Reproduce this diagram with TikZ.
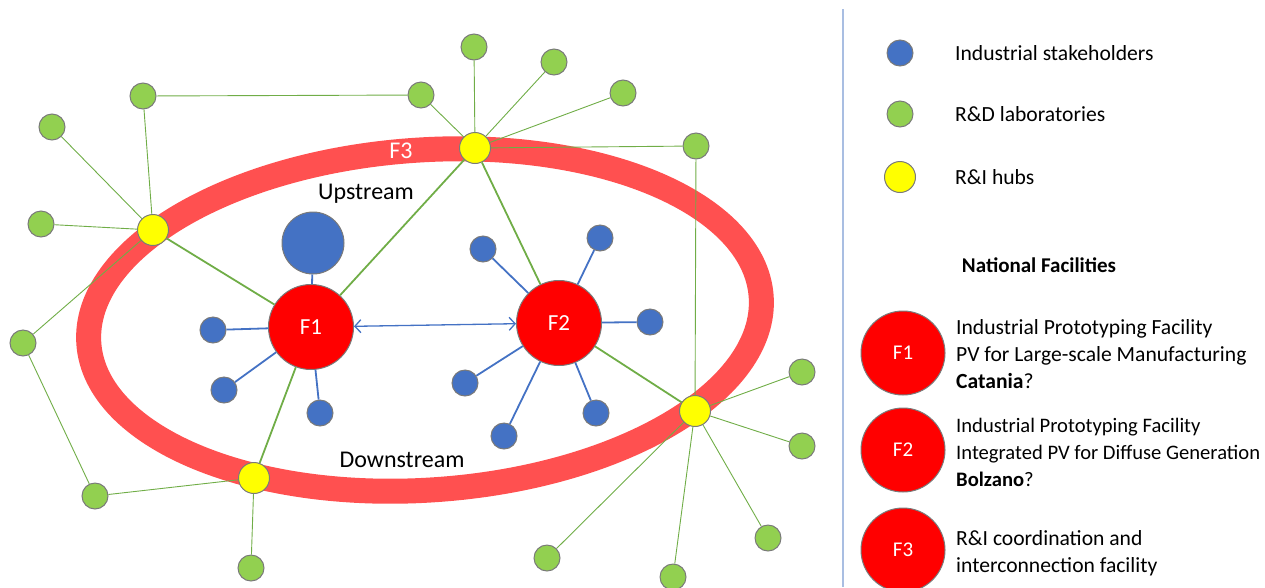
\documentclass[tikz,border=0pt]{standalone}
\usepackage{fontspec}
\setmainfont{Carlito}
\usetikzlibrary{arrows.meta}
\definecolor{indblue}{HTML}{4472C4}
\definecolor{labgreen}{HTML}{92D050}
\definecolor{linkgreen}{HTML}{70AD47}
\definecolor{hubyellow}{HTML}{FFFF00}
\definecolor{facred}{HTML}{FF0000}
\definecolor{bandred}{HTML}{FF5050}
\definecolor{rimgray}{HTML}{7A7A7A}
\definecolor{sepblue}{HTML}{A9BEE2}
\begin{document}
\begin{tikzpicture}[x=1pt,y=-1pt,
  dot/.style={circle,draw=rimgray,line width=1pt,inner sep=0pt},
  labnode/.style={dot,fill=labgreen,minimum size=26pt},
  indnode/.style={dot,fill=indblue,minimum size=26pt},
  hubnode/.style={dot,fill=hubyellow,minimum size=31pt},
  facnode/.style={dot,fill=facred,minimum size=85pt,text=white,font=\fontsize{23}{27}\selectfont},
  legfac/.style={dot,fill=facred,minimum size=84pt,text=white,font=\fontsize{21}{25}\selectfont},
  thinlink/.style={draw=linkgreen,line width=0.9pt},
  thicklink/.style={draw=linkgreen,line width=1.8pt},
  indlink/.style={draw=indblue,line width=1.8pt},
  lbl/.style={font=\fontsize{24}{28}\selectfont},
  legtext/.style={anchor=west,inner sep=0pt,align=left,font=\fontsize{21.6}{27}\selectfont}
]
\useasboundingbox (0,0) rectangle (1265,587);

% F3 coordination ring
\draw[bandred,line width=25pt,rotate around={4:(425,320)}]
  (425,320) ellipse [x radius=337pt, y radius=170pt];
\node[lbl,text=white,inner sep=0pt] (f3tag) at (401,151) {F3};

% labels inside the ring
\node[lbl] (up) at (366,194) {Upstream};
\node[lbl] (down) at (402,460) {Downstream};

% national facilities
\node[facnode] (f1) at (311,327) {F1};
\node[facnode] (f2) at (559,323) {F2};

% R&I hubs
\node[hubnode] (h1) at (153,230) {};
\node[hubnode] (h2) at (475,148) {};
\node[hubnode] (h3) at (254,478) {};
\node[hubnode] (h4) at (695,411) {};

% R&D laboratories
\node[labnode] (g1) at (143,96) {};
\node[labnode] (g2) at (52,127) {};
\node[labnode] (g3) at (41,224) {};
\node[labnode] (g4) at (23,343) {};
\node[labnode] (g5) at (95,496) {};
\node[labnode] (g6) at (251,568) {};
\node[labnode] (g7) at (421,95) {};
\node[labnode] (g8) at (474,47) {};
\node[labnode] (g9) at (554,62) {};
\node[labnode] (g10) at (623,93) {};
\node[labnode] (g11) at (696,146) {};
\node[labnode] (g12) at (802,372) {};
\node[labnode] (g13) at (802,446) {};
\node[labnode] (g14) at (768,538) {};
\node[labnode] (g15) at (547,558) {};
\node[labnode] (g16) at (673,577) {};

% industrial stakeholders
\node[indnode,minimum size=62pt] (b0) at (313,243) {};
\node[indnode] (b1) at (213,330) {};
\node[indnode] (b2) at (224,390) {};
\node[indnode] (b3) at (320,413) {};
\node[indnode] (b4) at (483,249) {};
\node[indnode] (b5) at (600,238) {};
\node[indnode] (b6) at (650,322) {};
\node[indnode] (b7) at (465,383) {};
\node[indnode] (b8) at (596,413) {};
\node[indnode] (b9) at (504,436) {};

% lab links
\draw[thinlink] (g1) -- (g7);
\draw[thinlink] (g1) -- (h1);
\draw[thinlink] (g2) -- (h1);
\draw[thinlink] (g3) -- (h1);
\draw[thinlink] (g4) -- (h1);
\draw[thinlink] (g4) -- (g5);
\draw[thinlink] (g5) -- (h3);
\draw[thinlink] (h3) -- (g6);
\draw[thinlink] (g7) -- (h2);
\draw[thinlink] (g8) -- (h2);
\draw[thinlink] (g9) -- (h2);
\draw[thinlink] (g10) -- (h2);
\draw[thinlink] (h2) -- (g11);
\draw[thinlink] (g11) -- (h4);
\draw[thinlink] (h4) -- (g12);
\draw[thinlink] (h4) -- (g13);
\draw[thinlink] (h4) -- (g14);
\draw[thinlink] (h4) -- (g15);
\draw[thinlink] (h4) -- (g16);

% hub to facility links
\draw[thicklink] (h1) -- (f1);
\draw[thicklink] (h2) -- (f1);
\draw[thicklink] (h3) -- (f1);
\draw[thicklink] (h2) -- (f2);
\draw[thicklink] (h4) -- (f2);

% stakeholder links
\foreach \b in {b0,b1,b2,b3} \draw[indlink] (f1) -- (\b);
\foreach \b in {b4,b5,b6,b7,b8,b9} \draw[indlink] (f2) -- (\b);

% facility exchange
\draw[indblue,line width=1.3pt,
  {Straight Barb[length=6pt,width=13pt]}-{Straight Barb[length=6pt,width=13pt]}]
  (f1) -- (f2);

% legend
\coordinate (septop) at (843,9);
\coordinate (sepbot) at (843,587);
\draw[sepblue,line width=2pt] (septop) -- (sepbot);

\node[indnode] (k1) at (900,53) {};
\node[labnode] (k2) at (900,114) {};
\node[hubnode] (k3) at (900,177) {};
\node[legtext] (t1) at (955,53) {Industrial stakeholders};
\node[legtext] (t2) at (955,114) {R\&D laboratories};
\node[legtext] (t3) at (955,177) {R\&I hubs};

\node[font=\fontsize{21}{25}\selectfont\bfseries] (nf) at (1039,265) {National Facilities};

\node[legfac] (k4) at (903,353) {F1};
\node[legfac] (k5) at (903,450) {F2};
\node[legfac] (k6) at (903,550) {F3};
\node[legtext] (t4) at (956,354) {Industrial Prototyping Facility\\PV for Large-scale Manufacturing\\\textbf{Catania}?};
\node[legtext,font=\fontsize{20.6}{27}\selectfont] (t5) at (956,452) {Industrial Prototyping Facility\\Integrated PV for Diffuse Generation\\\textbf{Bolzano}?};
\node[legtext] (t6) at (956,553) {R\&I coordination and\\interconnection facility};
\end{tikzpicture}
\end{document}
